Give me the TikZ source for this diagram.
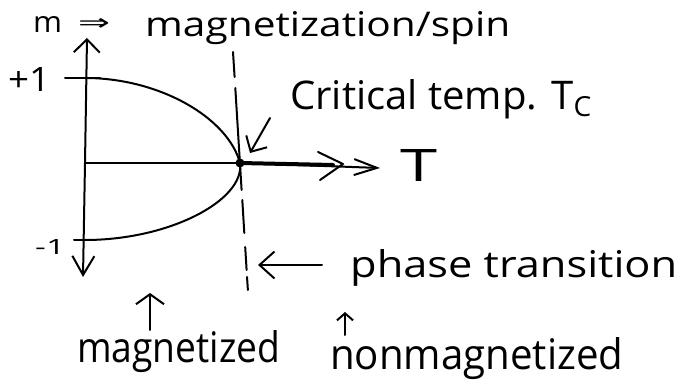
\documentclass[tikz,border=0pt]{standalone}
\usepackage{fontspec}
\setmainfont{Open Sans}
\newfontfamily\djv{DejaVu Sans}
\usepackage{graphicx}
\usetikzlibrary{arrows.meta}
\newcommand{\hw}[3]{\resizebox{#1pt}{#2pt}{#3}}
\begin{document}
\begin{tikzpicture}[x=1pt,y=-1pt, line cap=round, line join=round,
  ink/.style={line width=2pt, black},
  txt/.style={inner sep=0pt, anchor=base west}]
\useasboundingbox (0,0) rectangle (678,387);
% axes
\coordinate (O) at (85,163);
\coordinate (Ytop) at (87,38);
\coordinate (Ybot) at (83,277);
\coordinate (Tc) at (240,163);
\coordinate (Xend) at (380,168);
\draw[ink, -{Straight Barb[length=13pt,width=26pt]}] (O) -- (Ytop);
\draw[ink, -{Straight Barb[length=19pt,width=22pt]}] (O) -- (Ybot);
\draw[ink] (O) -- (Tc);
\draw[ink, -{Straight Barb[length=23pt,width=16pt]}] (Tc) -- (Xend);
\draw[line width=4pt] (Tc) -- (333,165);
\draw[ink] (318,152) -- (343,164) -- (320,180);
% ticks
\draw[ink] (65,78) -- (100,78);
\draw[ink] (74,240) -- (92,240);
% curve
\draw[ink] (85,78) .. controls (160,78) and (228,118) .. (Tc)
  .. controls (245,200) and (170,240) .. (85,240);
\fill (Tc) circle (4.5pt);
% dashed phase line
\draw[ink] (233,52) -- (234.6,77);
\draw[ink] (235.3,88) -- (241.6,190);
\draw[ink] (242.3,200) -- (244.3,233);
\draw[ink] (245.2,247) -- (246.6,270);
\draw[ink] (247,277) -- (247.9,290);
% labels
\node[txt] (m) at (33,33) {\hw{29}{16}{m}};
\node[txt] (arr) at (78,31) {\hw{32}{12}{\djv ⇒}};
\node[txt] (mag) at (145,37) {\hw{365}{25}{magnetization/spin}};
\node[txt] (p1) at (8,92) {\hw{42}{24}{+1}};
\node[txt] (m1) at (35,255) {\hw{30}{15}{-1}};
\node[txt] (crit) at (290,110) {\hw{303}{30}{Critical temp. T\textsubscript{C}}};
\node[txt] (T) at (400,182) {\hw{37}{32}{T}};
\node[txt] (phase) at (350,278) {\hw{327}{28}{phase transition}};
\node[txt] (magd) at (77,363) {\hw{203}{32}{magnetized}};
\node[txt] (nonmag) at (330,370) {\hw{293}{32}{nonmagnetized}};
% pointer arrows
\coordinate (c1) at (270,118); \coordinate (c2) at (250,153);
\draw[ink, -{Straight Barb[length=12pt,width=24pt]}] (c1) -- (c2);
\coordinate (p1s) at (322,265); \coordinate (p1e) at (258,265);
\draw[ink, -{Straight Barb[length=15pt,width=27pt]}] (p1s) -- (p1e);
\coordinate (g1s) at (150,330); \coordinate (g1e) at (150,293);
\draw[ink, -{Straight Barb[length=10pt,width=28pt]}] (g1s) -- (g1e);
\coordinate (n1s) at (345,335); \coordinate (n1e) at (345,312);
\draw[ink, -{Straight Barb[length=7pt,width=16pt]}] (n1s) -- (n1e);
\end{tikzpicture}
\end{document}
